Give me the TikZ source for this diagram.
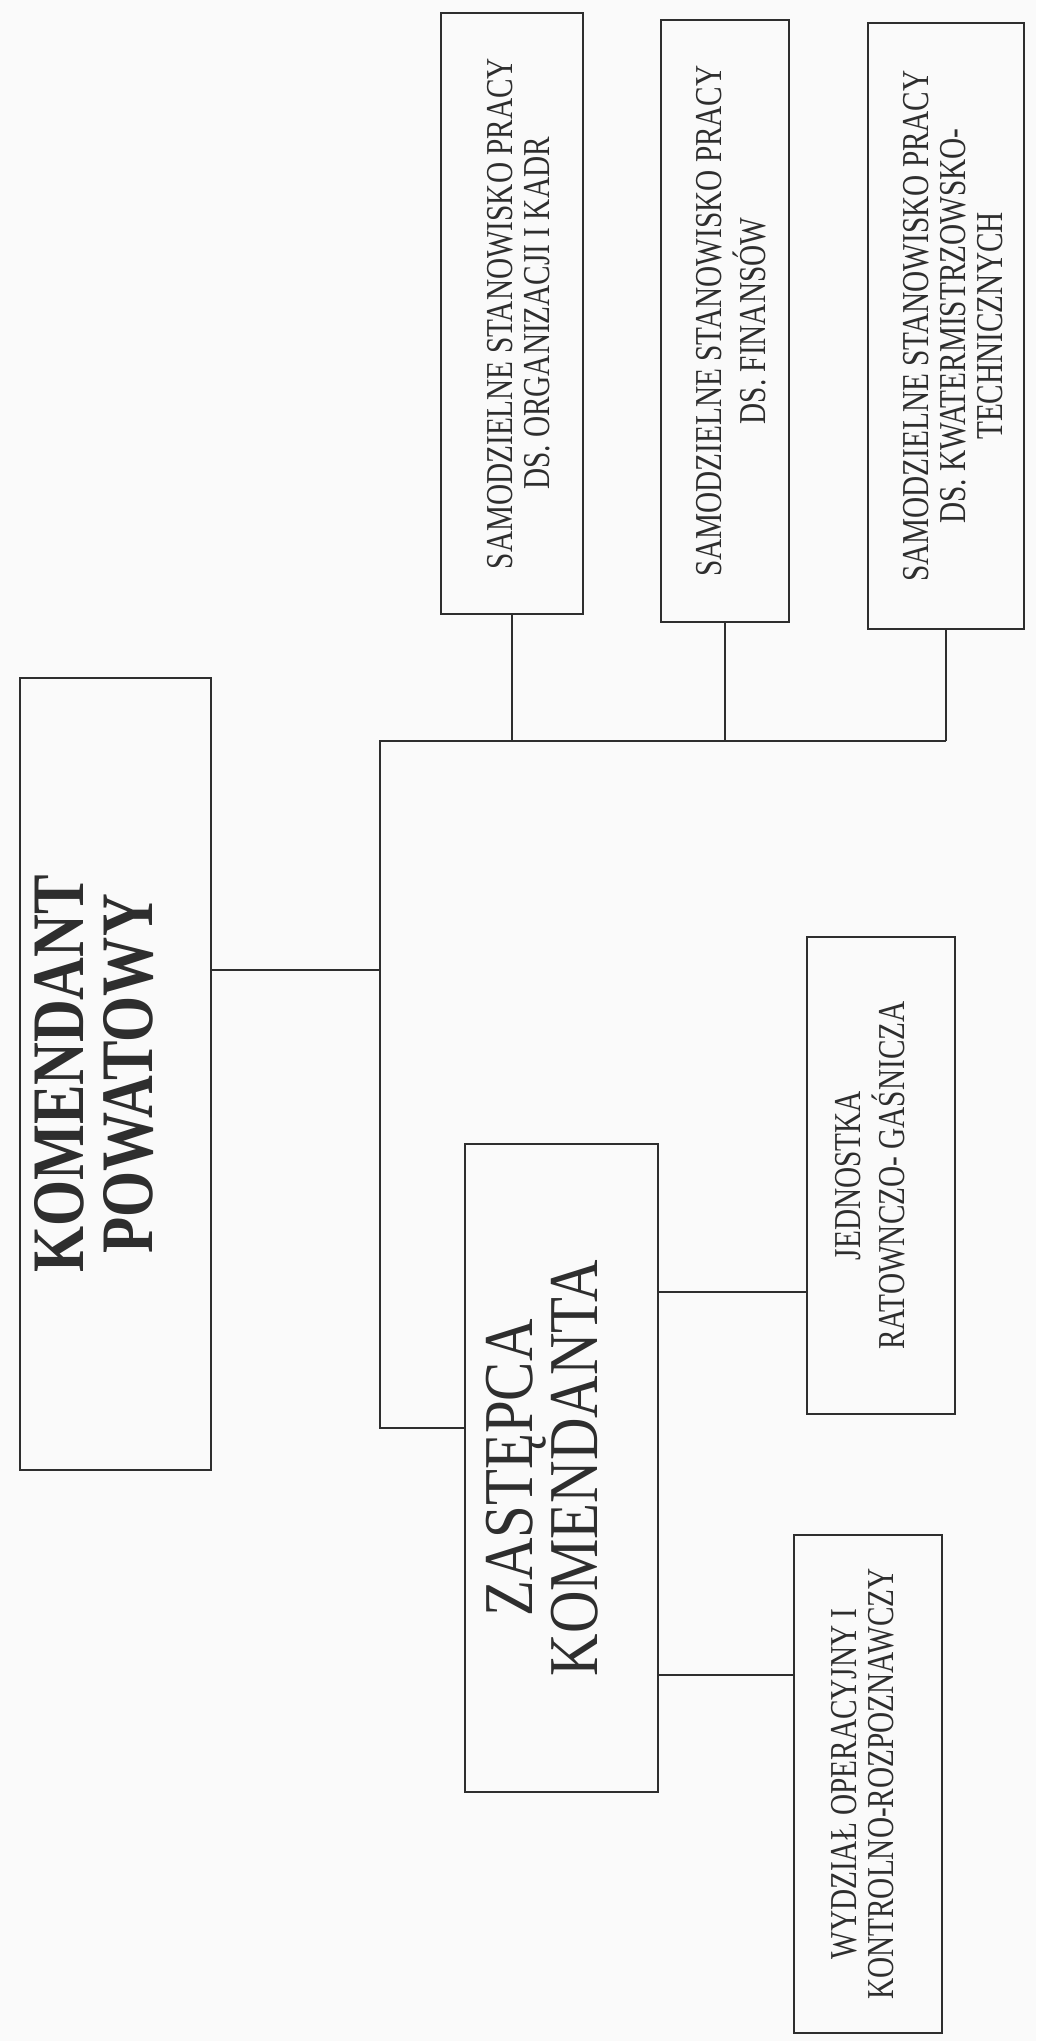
\documentclass[tikz,border=0pt]{standalone}
\usepackage{fontspec}
\setmainfont{Liberation Serif}[FakeStretch=0.77]
\newfontfamily\chieffont{Liberation Serif}[FakeStretch=0.8]
\newfontfamily\deputyfont{Liberation Serif}[FakeStretch=0.84]
\usepackage{graphicx}
\usetikzlibrary{positioning,calc}
\definecolor{ink}  {HTML}{2E2E2E}
\definecolor{paper}{HTML}{FAFAFA}
% text turned to read upwards; optional arg moves it sideways (half of it)
\newcommand{\vtext}[2][0pt]{\hspace*{#1}\rotatebox{90}{\begin{tabular}{@{}c@{}}#2\end{tabular}}}
\tikzset{
  unit/.style  ={draw=ink, line width=2.8pt, text=ink, inner sep=0pt,
                 font=\fontsize{38}{37}\selectfont},
  chief/.style ={unit, font=\chieffont\fontsize{74}{66}\selectfont\bfseries},
  deputy/.style={unit, font=\deputyfont\fontsize{70}{63}\selectfont},
  link/.style  ={draw=ink, line width=2.4pt}
}
\begin{document}
\begin{tikzpicture}[x=1pt,y=-1pt]
\fill[paper] (0,0) rectangle (1036,2041);
\useasboundingbox (0,0) rectangle (1036,2041);
% kierownictwo
\node[chief, minimum width=191pt, minimum height=792pt] (kp) at (115.5,1074)
  {\vtext[-24pt]{KOMENDANT\\POWATOWY}};
\node[deputy, minimum width=193pt, minimum height=648pt] (zk) at (561.5,1468)
  {\vtext[-20pt]{ZASTĘPCA\\KOMENDANTA}};
% samodzielne stanowiska
\node[unit, minimum width=142pt, minimum height=601pt] (org) at (512,313.5)
  {\vtext[24pt]{SAMODZIELNE STANOWISKO PRACY\\DS. ORGANIZACJI I KADR}};
\node[unit, minimum width=128pt, minimum height=602pt] (fin) at (725,321)
  {\vtext[22pt]{SAMODZIELNE STANOWISKO PRACY\\DS. FINANSÓW}};
\node[unit, minimum width=156pt, minimum height=606pt] (kwt) at (946,326)
  {\vtext[24pt]{SAMODZIELNE STANOWISKO PRACY\\DS. KWATERMISTRZOWSKO-\\TECHNICZNYCH}};
% komorki zastepcy
\node[unit, minimum width=148pt, minimum height=477pt] (jrg) at (881,1175.5)
  {\vtext[-12pt]{JEDNOSTKA\\RATOWNCZO- GAŚNICZA}};
\node[unit, minimum width=148pt, minimum height=498pt] (wor) at (868,1784)
  {\vtext{WYDZIAŁ OPERACYJNY I\\KONTROLNO-ROZPOZNAWCZY}};
% polaczenia
\coordinate (bus)    at (380,741);
\coordinate (busend) at (380,1428);
\coordinate (lvkp)   at (0,970);
\coordinate (lvjrg)  at (0,1292);
\coordinate (lvwor)  at (0,1675);
\draw[link] (kp.east |- lvkp) -- (bus |- lvkp);
\draw[link] (kwt.south |- bus) -- (bus) -- (busend) -- (zk.west |- busend);
\foreach \n in {org,fin,kwt}
  \draw[link] (\n.south) -- (\n.south |- bus);
\draw[link] (zk.east |- lvjrg) -- (jrg.west |- lvjrg);
\draw[link] (zk.east |- lvwor) -- (wor.west |- lvwor);
\end{tikzpicture}
\end{document}
